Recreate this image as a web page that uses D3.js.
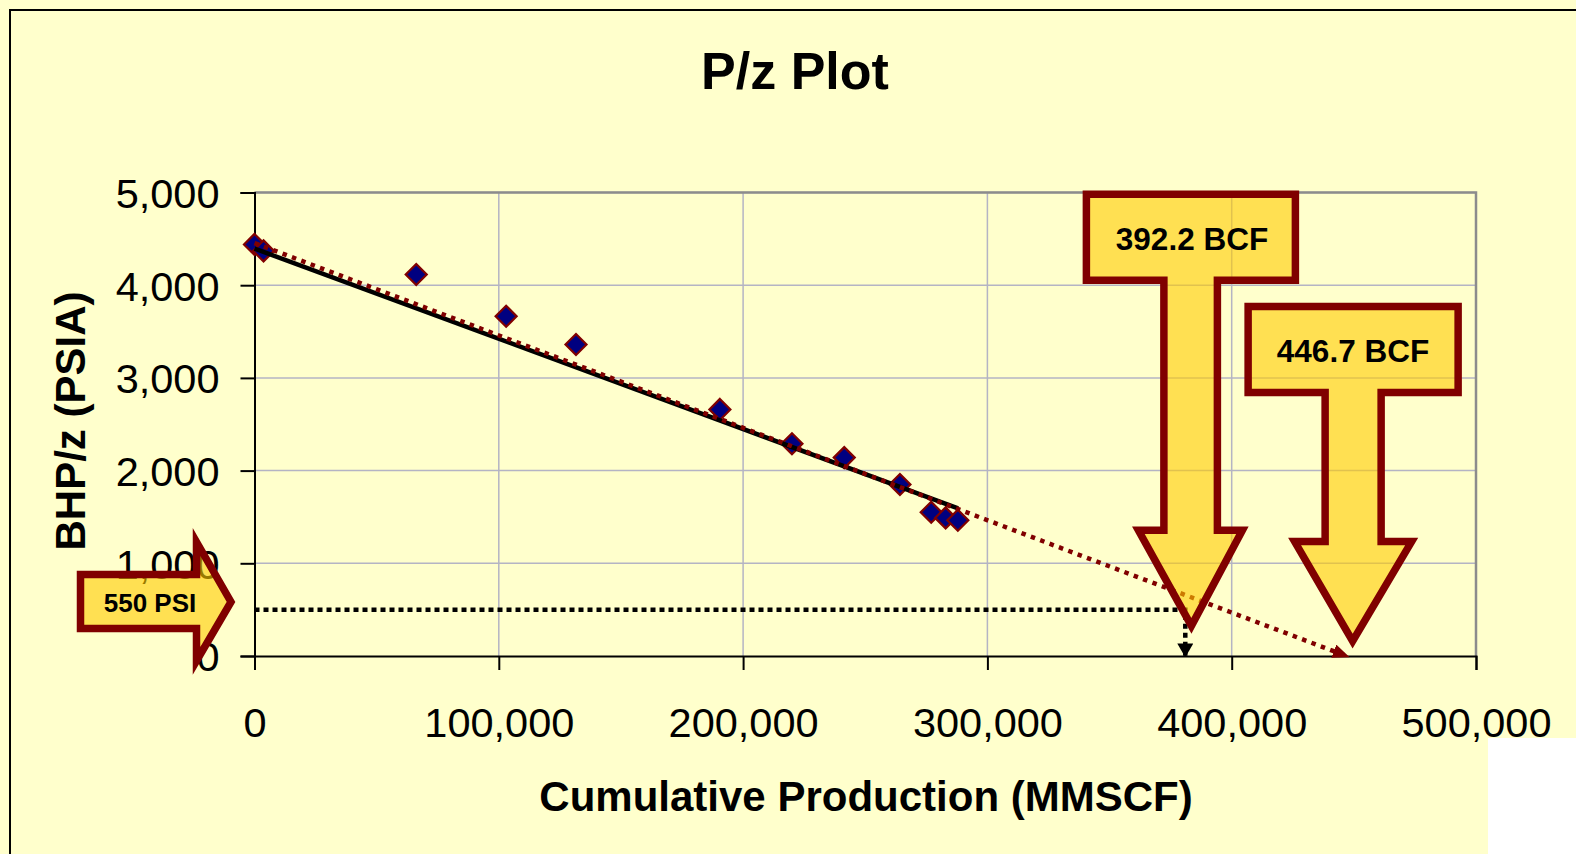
<!DOCTYPE html>
<html><head><meta charset="utf-8">
<script src="https://cdn.jsdelivr.net/npm/d3@7"></script>
<style>html,body{margin:0;padding:0;background:#FFFFCC;overflow:hidden}</style>
</head><body>
<svg id="c" width="1576" height="854"></svg>
<script>
// ---- data ----
const cumProd = [0, 3700, 66200, 103000, 131600, 190500, 220000, 241400, 264200, 277000, 282900, 287900];
const pzValues = [4440, 4370, 4115, 3665, 3360, 2660, 2290, 2140, 1850, 1550, 1490, 1465];
const fitX = [0, 288000];
const fitY = [4395, 1592];
const extrapX = [0, 447000];
const extrapY = [4455, 0];
const abandonX = [0, 381000, 381000];
const abandonY = [500, 500, 0];
const xTicks = [0, 100000, 200000, 300000, 400000, 500000];
const yTicks = [0, 1000, 2000, 3000, 4000, 5000];
const calloutLabels = ["392.2 BCF", "446.7 BCF", "550 PSI"];
const calloutTipX = [383500, 449500];
const calloutTipY = [250, 85];

const svg = d3.select("#c");
const FONT = "'Liberation Sans', Arial, sans-serif";
svg.append("rect").attr("width",1576).attr("height",854).attr("fill","#FFFFCC");
svg.append("rect").attr("x",10).attr("y",10).attr("width",1620).attr("height",900)
  .attr("fill","none").attr("stroke","#000").attr("stroke-width",2);

const x = d3.scaleLinear().domain([0,500000]).range([254.5,1476]);
const y = d3.scaleLinear().domain([0,5000]).range([656,192.5]);

// grid
const g = svg.append("g");
g.selectAll(".hg").data(yTicks.filter(d=>d>0)).enter().append("line")
  .attr("x1",x(0)).attr("x2",x(500000)).attr("y1",d=>y(d)).attr("y2",d=>y(d))
  .attr("stroke","#b4b4c4").attr("stroke-width",1.5);
g.selectAll(".vg").data(xTicks.filter(d=>d>0)).enter().append("line")
  .attr("y1",y(0)).attr("y2",y(5000)).attr("x1",d=>x(d)).attr("x2",d=>x(d))
  .attr("stroke","#b4b4c4").attr("stroke-width",1.5);
g.append("path").attr("d",`M${x(0)},${y(5000)}H${x(500000)}V${y(0)}`)
  .attr("fill","none").attr("stroke","#8c8c8c").attr("stroke-width",2.5);

// axes
const xa = svg.append("g").attr("transform",`translate(0,${y(0)})`)
  .call(d3.axisBottom(x).tickValues(xTicks).tickSize(14).tickFormat(d3.format(",")));
const ya = svg.append("g").attr("transform",`translate(${x(0)},0)`)
  .call(d3.axisLeft(y).tickValues(yTicks).tickSize(14).tickFormat(d3.format(",")));
[xa,ya].forEach(a=>{
  a.select(".domain").attr("stroke","#000").attr("stroke-width",2);
  a.selectAll(".tick line").attr("stroke","#000").attr("stroke-width",2);
  a.selectAll("text").attr("font-family",FONT).attr("font-size",41.5).attr("fill","#000");
});
xa.selectAll("text").attr("dy",null).attr("y",81);
ya.selectAll("text").attr("x",-35).attr("dy","0.36em");

// titles
svg.append("text").attr("x",795).attr("y",89).attr("text-anchor","middle")
  .attr("font-family",FONT).attr("font-weight","bold").attr("font-size",52).text("P/z Plot");
svg.append("text").attr("x",866).attr("y",811).attr("text-anchor","middle")
  .attr("font-family",FONT).attr("font-weight","bold").attr("font-size",42).text("Cumulative Production (MMSCF)");
svg.append("text").attr("transform","translate(85,421) rotate(-90)").attr("text-anchor","middle")
  .attr("font-family",FONT).attr("font-weight","bold").attr("font-size",42).text("BHP/z (PSIA)");

// markers
const defs = svg.append("defs");
defs.append("marker").attr("id","redHead").attr("viewBox","0 0 10 10").attr("refX",8).attr("refY",5)
  .attr("markerWidth",17).attr("markerHeight",14).attr("markerUnits","userSpaceOnUse").attr("orient","auto")
  .attr("preserveAspectRatio","none")
  .append("path").attr("d","M0,0L10,5L0,10Z").attr("fill","#800000");
defs.append("marker").attr("id","blackHead").attr("viewBox","0 0 10 10").attr("refX",9).attr("refY",5)
  .attr("markerWidth",14).attr("markerHeight",16).attr("markerUnits","userSpaceOnUse").attr("orient","auto")
  .attr("preserveAspectRatio","none")
  .append("path").attr("d","M0,0L10,5L0,10Z").attr("fill","#000");

// abandonment dotted line
const line = d3.line().x(d=>x(d[0])).y(d=>y(d[1]));
svg.append("path").datum(d3.zip(abandonX,abandonY)).attr("d",line)
  .attr("fill","none").attr("stroke","#000").attr("stroke-width",4.5).attr("stroke-dasharray","5,4")
  .attr("marker-end","url(#blackHead)");

// points
svg.selectAll(".pt").data(d3.zip(cumProd,pzValues)).enter().append("path")
  .attr("d","M0,-10.5L10.5,0L0,10.5L-10.5,0Z")
  .attr("transform",d=>`translate(${x(d[0])},${y(d[1])})`)
  .attr("fill","#000080").attr("stroke","#800000").attr("stroke-width",2.2);

// fit line
svg.append("path").datum(d3.zip(fitX,fitY)).attr("d",line)
  .attr("fill","none").attr("stroke","#000").attr("stroke-width",4.5);
// extrapolation
svg.append("path").datum(d3.zip(extrapX,extrapY)).attr("d",line)
  .attr("fill","none").attr("stroke","#800000").attr("stroke-width",4.5).attr("stroke-dasharray","4.5,5.5")
  .attr("marker-end","url(#redHead)");

// callouts
function downArrow(tx,ty,o){
  const [bl,br,bt,bb,sl,sr,hy,hl,hr] = o;
  return `M${tx+bl},${ty+bt}H${tx+br}V${ty+bb}H${tx+sr}V${ty+hy}H${tx+hr}L${tx},${ty}L${tx+hl},${ty+hy}H${tx+sl}V${ty+bb}H${tx+bl}Z`;
}
const cg = svg.append("g");
const tA = [x(calloutTipX[0]), y(calloutTipY[0])];
const tB = [x(calloutTipX[1]), y(calloutTipY[1])];
cg.append("path").attr("d",downArrow(tA[0],tA[1]-7,[-105,104,-431.5,-345.5,-27.5,26,-95.5,-53,51]))
  .attr("fill","#FFCC00").attr("fill-opacity",0.6).attr("stroke","#800000").attr("stroke-width",7.5);
cg.append("path").attr("d",downArrow(tB[0],tB[1]-7,[-104.5,105.5,-334.5,-248.5,-27.5,28.5,-99.5,-58,59]))
  .attr("fill","#FFCC00").attr("fill-opacity",0.6).attr("stroke","#800000").attr("stroke-width",7.5);
cg.append("path").attr("d","M80.5,574.5H196.5V542L231,602L196.5,661V628.5H80.5Z")
  .attr("fill","#FFCC00").attr("fill-opacity",0.6).attr("stroke","#800000").attr("stroke-width",7.5);

cg.append("text").attr("x",1192).attr("y",249.5).attr("text-anchor","middle")
  .attr("font-family",FONT).attr("font-weight","bold").attr("font-size",31.5).text(calloutLabels[0]);
cg.append("text").attr("x",1353).attr("y",361.5).attr("text-anchor","middle")
  .attr("font-family",FONT).attr("font-weight","bold").attr("font-size",31.5).text(calloutLabels[1]);
cg.append("text").attr("x",150).attr("y",611.5).attr("text-anchor","middle")
  .attr("font-family",FONT).attr("font-weight","bold").attr("font-size",26).text(calloutLabels[2]);

// white corner
svg.append("rect").attr("x",1488).attr("y",738).attr("width",100).attr("height",120).attr("fill","#fff");
</script>
</body></html>
